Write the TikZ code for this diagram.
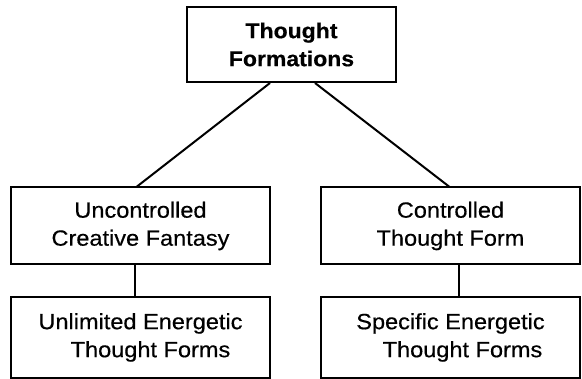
\documentclass[tikz,border=0pt]{standalone}
\usepackage{fontspec}
\setmainfont{Liberation Sans}[FakeStretch=1.07, FakeBold=0.5]
\usetikzlibrary{positioning,calc}

\begin{document}
\begin{tikzpicture}[x=1pt, y=-1pt,
        formbox/.style={draw, line width=2pt, minimum width=259pt, minimum height=77pt,
            inner sep=0pt, align=center, font=\fontsize{22}{28}\selectfont},
        link/.style={line width=2pt}]
        \useasboundingbox (0,0) rectangle (582,379);

        % Topo
        \node[formbox, minimum width=209pt, minimum height=75pt,
            font=\bfseries\fontsize{21.5}{28}\selectfont] (thought) at (291.5,44.5) {Thought\\Formations};

        % Segundo nivel
        \node[formbox] (uncontrolled) at (140.5,226) {Uncontrolled\\Creative Fantasy};
        \node[formbox] (controlled) at (450.5,226) {Controlled\\Thought Form};

        % Terceiro nivel
        \node[formbox, minimum height=81pt] (unlimited) at (140.5,337.5) {Unlimited Energetic\\\hspace*{20pt}Thought Forms};
        \node[formbox, minimum height=81pt] (specific) at (450.5,337.5) {Specific Energetic\\\hspace*{24pt}Thought Forms};

        % Ligacoes
        \draw[link] ([xshift=-21.5pt]thought.south) -- ([xshift=-3.5pt]uncontrolled.north);
        \draw[link] ([xshift=23.5pt]thought.south) -- ([xshift=-1.5pt]controlled.north);
        \draw[link] ([xshift=-5.5pt]uncontrolled.south) -- ([xshift=-5.5pt]unlimited.north);
        \draw[link] ([xshift=8.5pt]controlled.south) -- ([xshift=8.5pt]specific.north);
    \end{tikzpicture}
\end{document}
